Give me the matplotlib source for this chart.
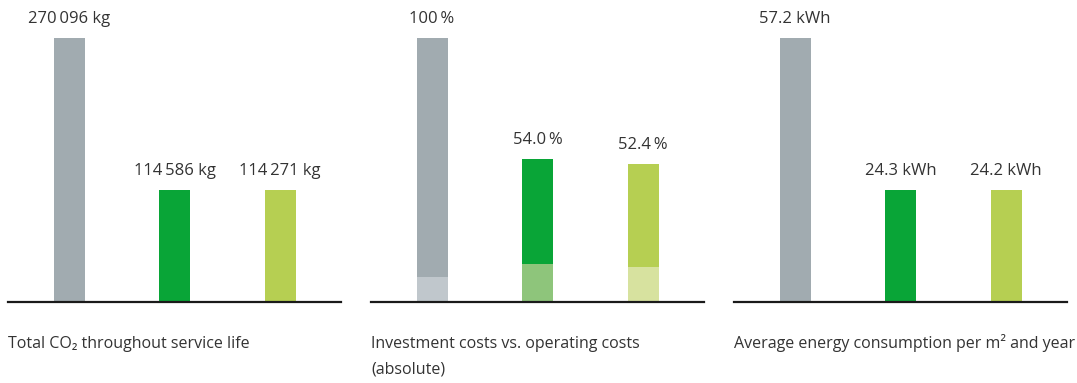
import matplotlib
matplotlib.use("Agg")
import matplotlib.pyplot as plt

plt.rcParams['font.family'] = ['Open Sans', 'DejaVu Sans']

# --- data -------------------------------------------------------------
co2_values = [270096, 114586, 114271]
co2_labels = ["270\u2009096 kg", "114\u2009586 kg", "114\u2009271 kg"]

cost_total = [100.0, 54.0, 52.4]
cost_invest = [9.5, 14.4, 13.3]   # lower (investment) share of each bar
cost_labels = ["100\u2009%", "54.0\u2009%", "52.4\u2009%"]

energy_values = [57.2, 24.3, 24.2]
energy_labels = ["57.2 kWh", "24.3 kWh", "24.2 kWh"]

titles = ["Total CO\u2082 throughout service life",
          "Investment costs vs. operating costs\n(absolute)",
          "Average energy consumption per m\u00b2 and year"]

dark_colors = ["#a1abb0", "#09a537", "#b6cf52"]
light_colors = ["#c0c7cc", "#8ec57b", "#d7e29f"]
text_color = "#333333"

# --- layout -----------------------------------------------------------
W, H = 1077, 383
fig = plt.figure(figsize=(W / 100, H / 100), dpi=100)

panel_left = [8, 371, 734]
panel_width = 333
baseline = 302
bar_top = 38
step = 105.5
first_center = 61.0
bar_w = 31 / step

pos = [0, 1, 2]


def make_axes(left_px):
    ax = fig.add_axes([left_px / W, (H - baseline) / H,
                       panel_width / W, (baseline - bar_top) / H])
    ax.set_xlim(-first_center / step, (panel_width - first_center) / step)
    for s in ["top", "right", "left"]:
        ax.spines[s].set_visible(False)
    ax.spines["bottom"].set_color("#1a1a1a")
    ax.spines["bottom"].set_linewidth(1.6)
    ax.set_xticks([])
    ax.set_yticks([])
    ax.patch.set_alpha(0)
    return ax


def put_labels(ax, values, labels):
    for x, v, t in zip(pos, values, labels):
        ax.annotate(t, (x, v), xytext=(0, 8), textcoords="offset points",
                    ha="center", va="bottom", fontsize=12,
                    color=text_color, annotation_clip=False)


# CO2 panel
ax1 = make_axes(panel_left[0])
ax1.bar(pos, co2_values, width=bar_w, color=dark_colors)
ax1.set_ylim(0, max(co2_values))
put_labels(ax1, co2_values, co2_labels)

# cost panel: stacked investment + operating
ax2 = make_axes(panel_left[1])
operating = [t - i for t, i in zip(cost_total, cost_invest)]
ax2.bar(pos, cost_invest, width=bar_w, color=light_colors)
ax2.bar(pos, operating, bottom=cost_invest, width=bar_w, color=dark_colors)
ax2.set_ylim(0, max(cost_total))
put_labels(ax2, cost_total, cost_labels)

# energy panel
ax3 = make_axes(panel_left[2])
ax3.bar(pos, energy_values, width=bar_w, color=dark_colors)
ax3.set_ylim(0, max(energy_values))
put_labels(ax3, energy_values, energy_labels)

for left_px, title in zip(panel_left, titles):
    lines = title.split("\n")
    for k, line in enumerate(lines):
        fig.text(left_px / W, 1 - (348 + 25 * k) / H, line, ha="left",
                 va="baseline", fontsize=11.5, color=text_color)

fig.savefig("out.png", dpi=100)
